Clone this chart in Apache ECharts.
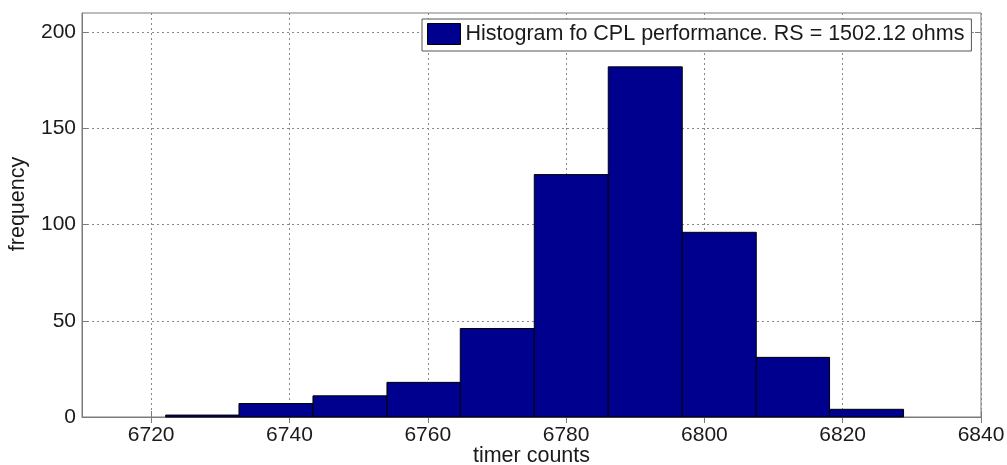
<!DOCTYPE html>
<html>
<head>
<meta charset="utf-8">
<script src="https://cdn.jsdelivr.net/npm/echarts@6/dist/echarts.min.js"></script>
<style>html,body{margin:0;padding:0;background:#fff;}#c{width:1007px;height:465px;}</style>
</head>
<body>
<div id="c"></div>
<script>
// Histogram bins (timer counts) and frequencies
const binLeft  = [6722.1, 6732.7, 6743.4, 6754.1, 6764.7, 6775.4, 6786.1, 6796.8, 6807.5, 6818.1];
const binRight = [6732.7, 6743.4, 6754.1, 6764.7, 6775.4, 6786.1, 6796.8, 6807.5, 6818.1, 6828.8];
const counts   = [1, 7, 11, 18, 46, 126, 182, 96, 31, 4];
const xTicks = [6720, 6740, 6760, 6780, 6800, 6820, 6840];
const yTicks = [0, 50, 100, 150, 200];
const seriesName = 'Histogram fo CPL performance. RS = 1502.12 ohms';

const FONT = "'Liberation Sans', Arial, sans-serif";
const TXT = '#1a1a1a';
const AX = '#7a7a7a';

const data = counts.map((c, i) => [binLeft[i], binRight[i], c]);

const chart = echarts.init(document.getElementById('c'), null, {renderer: 'canvas'});
chart.setOption({
  animation: false,
  backgroundColor: '#fff',
  grid: {left: 82, right: 26, top: 13, bottom: 48, containLabel: false, outerBoundsMode: 'none',
         show: true, borderColor: AX, borderWidth: 1, backgroundColor: 'transparent'},
  legend: {
    show: true,
    data: [seriesName],
    left: 422, top: 19,
    padding: [4, 7, 6, 5],
    backgroundColor: '#fff',
    borderColor: '#555',
    borderWidth: 1,
    borderRadius: 0,
    icon: 'rect',
    itemWidth: 33, itemHeight: 21,
    itemStyle: {color: '#00008F', borderColor: '#000', borderWidth: 1},
    textStyle: {fontFamily: FONT, fontSize: 21.5, color: TXT},
    selectedMode: false
  },
  xAxis: [{
    type: 'value', min: 6710, max: 6840,
    name: 'timer counts', nameLocation: 'middle', nameGap: 28, nameMoveOverlap: false,
    nameTextStyle: {fontFamily: FONT, fontSize: 21.5, color: TXT},
    axisLine: {show: true, onZero: false, lineStyle: {color: AX}},
    axisTick: {show: true, inside: true, length: 6, customValues: xTicks, lineStyle: {color: AX}},
    axisLabel: {customValues: xTicks, fontFamily: FONT, fontSize: 21, color: TXT, margin: 8,
                formatter: v => String(v)},
    splitLine: {show: true, lineStyle: {color: '#888', type: [2, 3], width: 1}}
  }, {
    type: 'value', min: 6710, max: 6840, position: 'top',
    axisLine: {show: false},
    axisTick: {show: true, inside: true, length: 6, customValues: xTicks, lineStyle: {color: AX}},
    axisLabel: {show: false},
    splitLine: {show: false}
  }],
  yAxis: [{
    type: 'value', min: 0, max: 210,
    name: 'frequency', nameLocation: 'middle', nameGap: 53, nameMoveOverlap: false,
    nameTextStyle: {fontFamily: FONT, fontSize: 21.5, color: TXT, padding: [0, 0, 0, 22]},
    axisLine: {show: true, lineStyle: {color: AX}},
    axisTick: {show: true, inside: true, length: 6, customValues: yTicks, lineStyle: {color: AX}},
    axisLabel: {customValues: yTicks, fontFamily: FONT, fontSize: 21, color: TXT, margin: 6,
                formatter: v => String(v)},
    splitLine: {show: true, lineStyle: {color: '#888', type: [2, 3], width: 1}}
  }, {
    type: 'value', min: 0, max: 210, position: 'right',
    axisLine: {show: false},
    axisTick: {show: true, inside: true, length: 6, customValues: yTicks, lineStyle: {color: AX}},
    axisLabel: {show: false},
    splitLine: {show: false}
  }],
  series: [{
    name: seriesName,
    type: 'custom',
    xAxisIndex: 0, yAxisIndex: 0,
    itemStyle: {color: '#00008F', borderColor: '#000', borderWidth: 1},
    encode: {x: [0, 1], y: 2},
    data: data,
    renderItem: function (params, api) {
      const p0 = api.coord([api.value(0), api.value(2)]);
      const p1 = api.coord([api.value(1), 0]);
      return {
        type: 'rect',
        shape: {x: p0[0], y: p0[1], width: p1[0] - p0[0], height: p1[1] - p0[1]},
        style: {fill: '#00008F', stroke: '#000', lineWidth: 1}
      };
    }
  }]
});
</script>
</body>
</html>
